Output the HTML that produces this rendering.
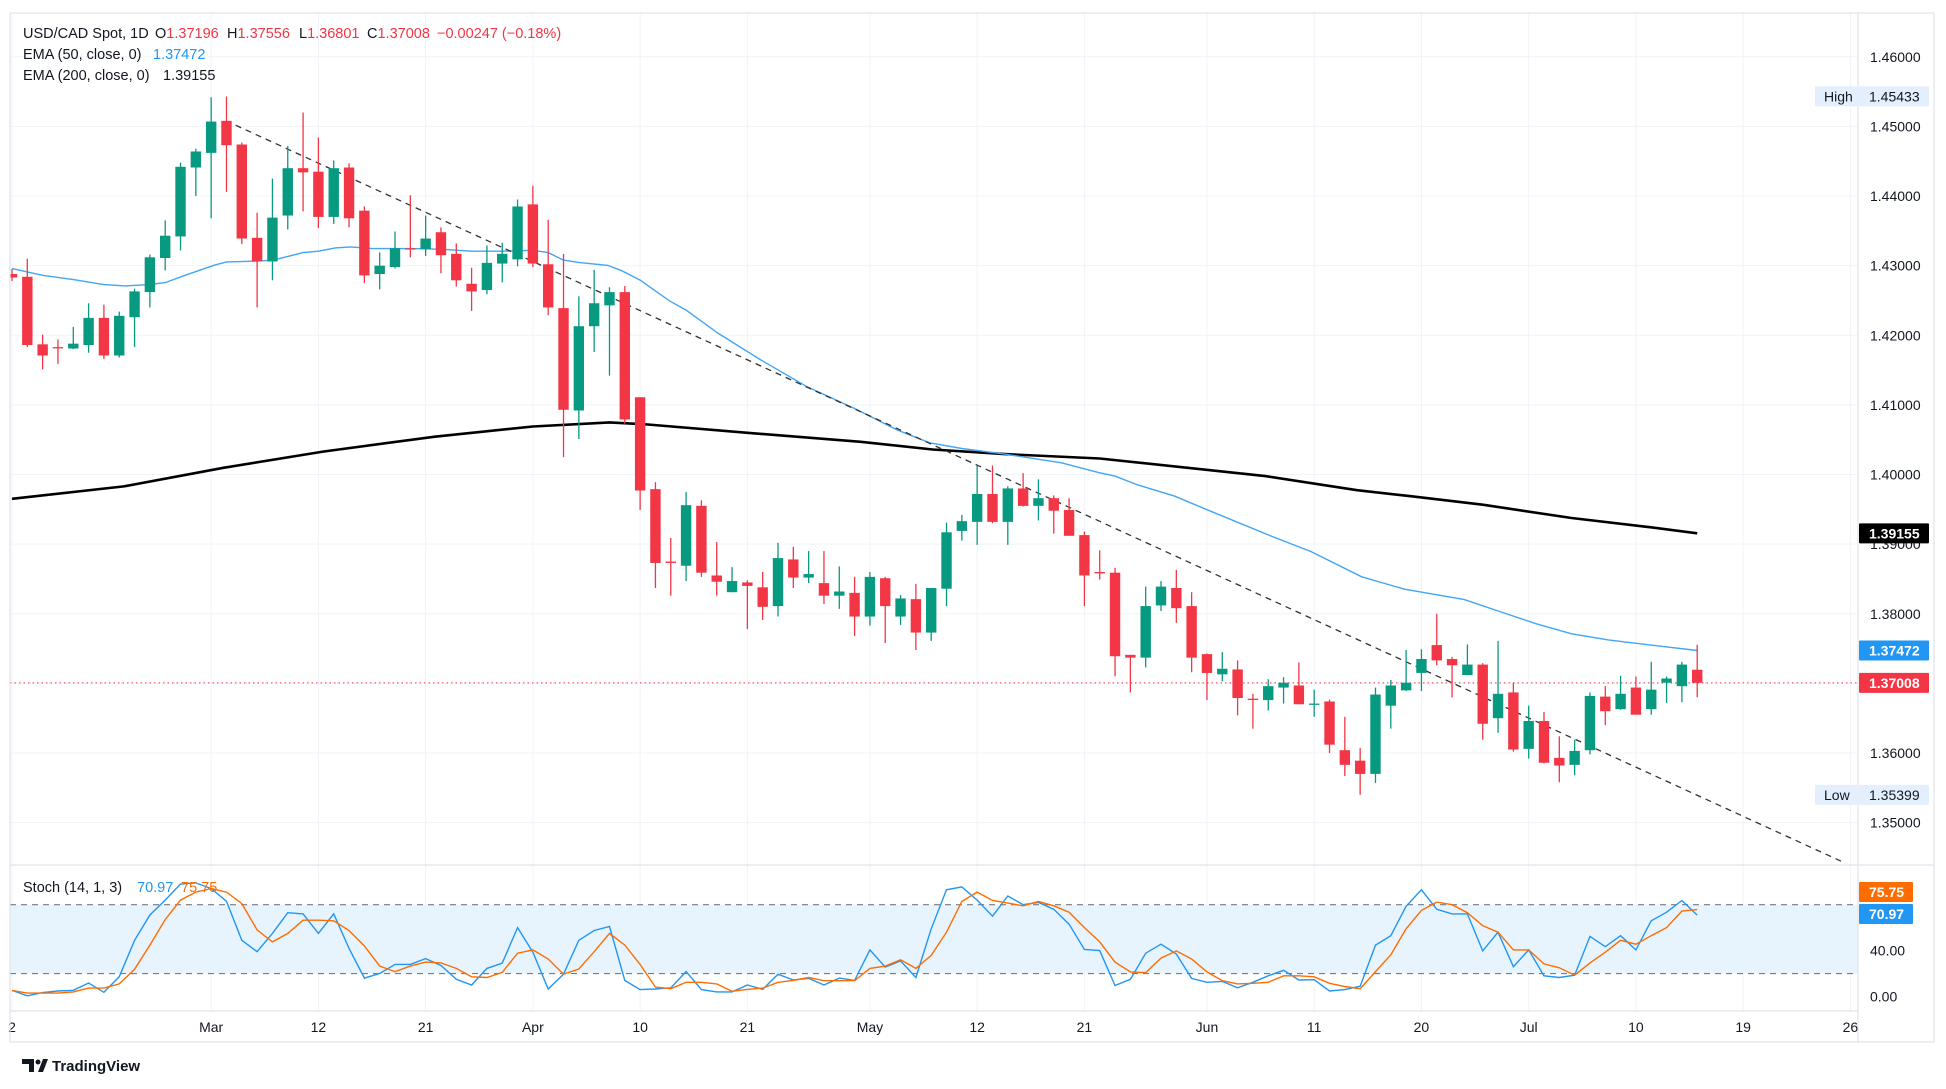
<!DOCTYPE html>
<html><head><meta charset="utf-8">
<style>
html,body{margin:0;padding:0;background:#fff;}
svg{display:block;font-family:"Liberation Sans",sans-serif;}
</style></head>
<body>
<svg id="chart" width="1946" height="1089" viewBox="0 0 1946 1089" xmlns="http://www.w3.org/2000/svg">
<rect x="0" y="0" width="1946" height="1089" fill="#ffffff"/>
<g id="grid"></g>
<g id="band"></g>
<g id="main"></g>
<g id="stoch"></g>
<g id="axes"></g>
<g font-size="14.5" fill="#131722">
  <text x="23" y="38">USD/CAD Spot, 1D</text>
  <text y="38"><tspan x="155">O</tspan><tspan fill="#f23645">1.37196</tspan><tspan x="227">H</tspan><tspan fill="#f23645">1.37556</tspan><tspan x="299">L</tspan><tspan fill="#f23645">1.36801</tspan><tspan x="367">C</tspan><tspan fill="#f23645">1.37008</tspan><tspan x="437" fill="#f23645">−0.00247 (−0.18%)</tspan></text>
  <text x="23" y="59">EMA (50, close, 0)<tspan x="153" fill="#2196f3">1.37472</tspan></text>
  <text x="23" y="80">EMA (200, close, 0)<tspan x="163">1.39155</tspan></text>
  <text x="23" y="892" font-size="14.5">Stoch (14, 1, 3) <tspan x="137" fill="#2196f3">70.97</tspan><tspan x="181" fill="#ff6d00">75.75</tspan></text>
</g>
<g>
  <path d="M22 1059 h12 v13 h-5 v-8 h-7z" fill="#131722"/>
  <circle cx="38" cy="1062" r="2.5" fill="#131722"/>
  <path d="M38 1072 l5 -13 h5 l-5 13z" fill="#131722"/>
  <text x="52" y="1071" font-size="15" font-weight="bold" fill="#131722">TradingView</text>
</g>
</svg>
<script>
const opens=[1.4288,1.4284,1.4187,1.4183,1.4181,1.4186,1.4225,1.4171,1.4226,1.4262,1.4311,1.4342,1.4441,1.4462,1.4508,1.4474,1.4340,1.4306,1.4372,1.4440,1.4435,1.4370,1.4441,1.4379,1.4288,1.4298,1.4325,1.4324,1.4348,1.4317,1.4274,1.4265,1.4303,1.4309,1.4388,1.4302,1.4239,1.4092,1.4213,1.4243,1.4262,1.4111,1.3979,1.3875,1.3869,1.3955,1.3855,1.3831,1.3845,1.3838,1.3811,1.3878,1.3852,1.3844,1.3826,1.3830,1.3796,1.3851,1.3796,1.3821,1.3773,1.3836,1.3919,1.3932,1.3972,1.3932,1.3980,1.3955,1.3966,1.3949,1.3913,1.3860,1.3859,1.3741,1.3737,1.3812,1.3837,1.3811,1.3742,1.3713,1.3720,1.3678,1.3676,1.3694,1.3697,1.3670,1.3674,1.3604,1.3589,1.3570,1.3668,1.3690,1.3715,1.3755,1.3735,1.3712,1.3727,1.3650,1.3687,1.3606,1.3646,1.3593,1.3583,1.3604,1.3681,1.3663,1.3694,1.3663,1.3701,1.3696,1.37196];
const highs=[1.4295,1.4310,1.4201,1.4194,1.4212,1.4246,1.4244,1.4234,1.4267,1.4316,1.4365,1.4448,1.4468,1.4542,1.4543,1.4477,1.4376,1.4425,1.4472,1.4520,1.4484,1.4451,1.4447,1.4385,1.4319,1.4349,1.4401,1.4372,1.4355,1.4332,1.4297,1.4329,1.4333,1.4395,1.4415,1.4366,1.4317,1.4256,1.4294,1.4269,1.4271,1.4111,1.3989,1.3909,1.3975,1.3963,1.3903,1.3867,1.3848,1.3860,1.3902,1.3896,1.3890,1.3890,1.3868,1.3853,1.3860,1.3853,1.3827,1.3843,1.3837,1.3931,1.3942,1.4013,1.4013,1.3983,1.4002,1.3993,1.3970,1.3966,1.3918,1.3891,1.3866,1.3741,1.3839,1.3847,1.3863,1.3831,1.3743,1.3745,1.3733,1.3685,1.3706,1.3709,1.3730,1.3691,1.3677,1.3652,1.3607,1.3694,1.3705,1.3748,1.3749,1.3800,1.3738,1.3756,1.3729,1.3761,1.3701,1.3668,1.3659,1.3624,1.3619,1.3687,1.3696,1.3711,1.3710,1.3731,1.3710,1.3731,1.37556];
const lows=[1.4278,1.4183,1.4151,1.4159,1.4180,1.4175,1.4166,1.4168,1.4183,1.4240,1.4293,1.4322,1.4400,1.4368,1.4406,1.4331,1.4240,1.4279,1.4352,1.4378,1.4354,1.4360,1.4355,1.4275,1.4266,1.4296,1.4312,1.4314,1.4289,1.4270,1.4235,1.4259,1.4276,1.4299,1.4298,1.4229,1.4025,1.4051,1.4176,1.4142,1.4073,1.3949,1.3837,1.3826,1.3847,1.3853,1.3826,1.3831,1.3778,1.3791,1.3796,1.3837,1.3844,1.3814,1.3807,1.3768,1.3783,1.3758,1.3784,1.3748,1.3761,1.3811,1.3905,1.3899,1.3930,1.3899,1.3954,1.3934,1.3915,1.3912,1.3811,1.3849,1.3710,1.3687,1.3723,1.3804,1.3787,1.3716,1.3676,1.3703,1.3654,1.3635,1.3661,1.3671,1.3670,1.3652,1.3600,1.3567,1.3540,1.3557,1.3635,1.3689,1.3689,1.3726,1.3680,1.3712,1.3619,1.3629,1.3602,1.3592,1.3585,1.3558,1.3568,1.3598,1.3640,1.3662,1.3655,1.3655,1.3672,1.3673,1.36801];
const closes=[1.4283,1.4186,1.4171,1.4182,1.4188,1.4225,1.4171,1.4228,1.4263,1.4312,1.4343,1.4442,1.4464,1.4507,1.4473,1.4339,1.4306,1.4369,1.4440,1.4434,1.4370,1.4440,1.4368,1.4286,1.4300,1.4325,1.4324,1.4339,1.4315,1.4279,1.4263,1.4304,1.4317,1.4385,1.4303,1.4240,1.4093,1.4213,1.4246,1.4262,1.4079,1.3977,1.3873,1.3873,1.3956,1.3859,1.3846,1.3847,1.3840,1.3810,1.3880,1.3852,1.3857,1.3826,1.3832,1.3796,1.3853,1.3811,1.3822,1.3773,1.3837,1.3917,1.3933,1.3972,1.3932,1.3980,1.3955,1.3966,1.3948,1.3912,1.3855,1.3858,1.3739,1.3737,1.3811,1.3839,1.3808,1.3737,1.3715,1.3721,1.3679,1.3677,1.3696,1.3701,1.3670,1.3671,1.3612,1.3583,1.3570,1.3684,1.3697,1.3701,1.3735,1.3733,1.3726,1.3727,1.3642,1.3685,1.3605,1.3646,1.3586,1.3582,1.3603,1.3682,1.3660,1.3685,1.3655,1.3691,1.3707,1.3727,1.37008];
const ema50Bars=[0,2,4,6,7.4,9,10,11.3,13.2,14,15.5,17,19,20,21.1,22.1,23.5,26,28,30,32,34,35,36,37,38.9,39.8,41,42.9,44,46.1,48.9,51.9,55,57.8,59.9,62,64.8,68.5,71,72,73.4,75.9,78,82,84.8,88.1,90.9,94.8,97.2,99.5,101.8,104.2,106.9,110];
const ema50=[1.42958,1.42862,1.42800,1.42728,1.42709,1.42728,1.42757,1.42862,1.43006,1.43054,1.43063,1.43077,1.43188,1.43207,1.43255,1.43269,1.43245,1.43245,1.43236,1.43207,1.43207,1.43221,1.43188,1.43080,1.43047,1.43004,1.42927,1.42793,1.42496,1.42362,1.42027,1.41643,1.41260,1.40949,1.40638,1.40456,1.40374,1.40293,1.40168,1.40024,1.39977,1.39857,1.39688,1.39495,1.39133,1.38893,1.38531,1.38353,1.38203,1.38025,1.37856,1.37712,1.37625,1.37553,1.37472];
const ema200Bars=[0,7.3,13.8,20.3,27.6,34,39,41.5,48.5,55.4,60.1,64.8,71,81.8,87.8,91.3,96,101.8,106.9,110];
const ema200=[1.39651,1.39830,1.40097,1.40329,1.40543,1.40690,1.40748,1.40719,1.40590,1.40470,1.40360,1.40293,1.40230,1.39977,1.39775,1.39688,1.39567,1.39375,1.39244,1.39155];
const trendBars=[14.6,119.4];
const trendPrices=[1.45017,1.34445];
const stochK=[5.3,0.6,3.4,4.8,5.4,11.8,3.7,17.2,49,71,84,98,99,94,83,49,39,55,73,72,55,72,42,16,20,28,28,33,27,15,10,24.5,29,60,38.6,6.5,19.4,49,57.5,61,14,6,6.5,7.6,21.7,6,4,4,10,6.2,19.4,14.4,15.8,10,16,14,40.6,25.6,31,16.6,59,93,95.5,84,70,87.6,80,82,76,63,41,40,9.6,15,37.7,45.6,37,15.8,12.4,13.2,7.6,12.4,18,22.8,14.4,14.6,4.8,6,9,44.8,53,78.6,93,76,72,72,39.7,56,26,40.6,18,16.6,18.6,52.4,43.4,53,40.6,66,73.5,83.7,70.97];
const stochD=[5.3,3,3,3,4,7.3,7.3,11,23.7,44.8,67,84,91,94,91,81,58,47.6,55,66.5,66.5,66,57.5,44,26.5,21.7,26.5,30,29.3,24.5,17.2,16.6,21,37.7,40.6,32.7,19.4,24,39,55,44.8,28,8.2,6.8,12.4,12.4,11,4.5,6.2,7.3,12.4,14,16.6,13.8,13.8,13.8,24.5,26.5,32,24.5,35.8,56,82.8,91,83.7,81.4,79,82.8,79,73.5,60,47.6,30,21.4,20.8,33.5,39.7,32.7,21.4,13.8,11,11.5,12.4,18,18,17.2,11.5,8.7,6.8,21.7,36.3,59,75,82.3,80,73,61.7,56,40.6,40.6,28.4,25,18.6,29.3,38.6,49,45.6,53,60,74.4,75.75];
const tickBars=[0,13,20,27,34,41,48,56,63,70,78,85,92,99,106,113,120];
const tickLabels=["2","Mar","12","21","Apr","10","21","May","12","21","Jun","11","20","Jul","10","19","26"];
const priceTicks=[1.46,1.45,1.44,1.43,1.42,1.41,1.40,1.39,1.38,1.37,1.36,1.35];
const stochTicks=[40,0];

const NS="http://www.w3.org/2000/svg";
const L=10,R=1858,T=13,PB=865,SB=1011,B=1042,OR=1934;
function xs(i){return 12+i*15.32;}
function ys(p){return 56.8+(1.46-p)*6962;}
function yst(v){return 996.5-v*1.1475;}
function mk(tag,attrs,parent){const e=document.createElementNS(NS,tag);for(const k in attrs)e.setAttribute(k,attrs[k]);parent.appendChild(e);return e;}
const grid=document.getElementById('grid'),band=document.getElementById('band'),main=document.getElementById('main'),st=document.getElementById('stoch'),axes=document.getElementById('axes');

const defs=mk('defs',{},document.getElementById('chart'));
const cp=mk('clipPath',{id:'cm'},defs);mk('rect',{x:L,y:T,width:R-L,height:PB-T},cp);
const cp2=mk('clipPath',{id:'cs'},defs);mk('rect',{x:L,y:PB,width:R-L,height:SB-PB},cp2);
main.setAttribute('clip-path','url(#cm)');
st.setAttribute('clip-path','url(#cs)');

priceTicks.forEach(p=>{const g=mk('line',{x1:L,x2:R,y1:ys(p),y2:ys(p),stroke:'#f0f3fa','stroke-width':1},grid);

});
tickBars.forEach((b,i)=>{const g=mk('line',{x1:xs(b),x2:xs(b),y1:T,y2:SB,stroke:'#f0f3fa','stroke-width':1},grid);


const t=mk('text',{x:xs(b),y:1032,'text-anchor':'middle','font-size':14,fill:'#131722'},axes);t.textContent=tickLabels[i];

});

const bd=mk('rect',{x:L,y:yst(80),width:R-L,height:yst(20)-yst(80),fill:'#e3f2fd',opacity:0.85},band);


[80,20].forEach(v=>{const l=mk('line',{x1:L,x2:R,y1:yst(v),y2:yst(v),stroke:'#787b86','stroke-width':1.2,'stroke-dasharray':'6 5'},band);

});

function linePath(bars,vals,yf){return bars.map((b,i)=>(i?'L':'M')+xs(b).toFixed(1)+' '+yf(vals[i]).toFixed(1)).join(' ');}
const e200=mk('path',{d:linePath(ema200Bars,ema200,ys),fill:'none',stroke:'#000','stroke-width':2.6},main);


const e50=mk('path',{d:linePath(ema50Bars,ema50,ys),fill:'none',stroke:'#42a5f5','stroke-width':1.4},main);


const tl=mk('line',{x1:xs(trendBars[0]),y1:ys(trendPrices[0]),x2:xs(trendBars[1]),y2:ys(trendPrices[1]),stroke:'#333','stroke-width':1.3,'stroke-dasharray':'6 5'},main);


const lp=mk('line',{x1:L,x2:R,y1:ys(closes[closes.length-1]),y2:ys(closes[closes.length-1]),stroke:'#f23645','stroke-width':1,'stroke-dasharray':'1.5 3'},main);



for(let i=0;i<opens.length;i++){
  const up=closes[i]>=opens[i],c=up?'#089981':'#f23645',x=xs(i);
  const g=mk('g',{},main);
  
  
  mk('line',{x1:x,x2:x,y1:ys(highs[i]),y2:ys(lows[i]),stroke:c,'stroke-width':1.3},g);
  const t=ys(Math.max(opens[i],closes[i])),bt=ys(Math.min(opens[i],closes[i]));
  mk('rect',{x:x-5.2,y:t,width:10.4,height:Math.max(1.3,bt-t),fill:c},g);
}

const sb=stochK.map((_,i)=>i);
const sk=mk('path',{d:linePath(sb,stochK,yst),fill:'none',stroke:'#2196f3','stroke-width':1.4},st);


const sd=mk('path',{d:linePath(sb,stochD,yst),fill:'none',stroke:'#ff6d00','stroke-width':1.4},st);



[[L,T,OR,T],[L,B,OR,B],[L,T,L,B],[OR,T,OR,B],[R,T,R,B],[L,PB,OR,PB],[L,SB,R,SB]].forEach(a=>{
 const l=mk('line',{x1:a[0],y1:a[1],x2:a[2],y2:a[3],stroke:'#e0e3eb','stroke-width':1.2},axes);
 
 });

priceTicks.forEach(p=>{const t=mk('text',{x:1870,y:ys(p)+5,'font-size':14,fill:'#131722'},axes);t.textContent=p.toFixed(5);

});
stochTicks.forEach(v=>{const t=mk('text',{x:1870,y:yst(v)+5,'font-size':14,fill:'#131722'},axes);t.textContent=v.toFixed(2);

});

function badge(name,y,txt,bg,fg,w){const g=mk('g',{},axes);
 
 
 mk('rect',{x:1859,y:y-10,width:w,height:20,fill:bg,rx:1},g);
 const t=mk('text',{x:1869,y:y+5,'font-size':14,fill:fg,'font-weight':fg=='#fff'?'bold':'normal'},g);t.textContent=txt;}
badge('high-value-badge',ys(1.45433),'1.45433','#e3effd','#131722',70);
badge('ema200-badge',ys(ema200[ema200.length-1]),'1.39155','#000','#fff',70);
badge('ema50-badge',ys(ema50[ema50.length-1]),'1.37472','#2196f3','#fff',70);
badge('last-price-badge',ys(closes[closes.length-1]),'1.37008','#f23645','#fff',70);
badge('low-value-badge',ys(1.35399),'1.35399','#e3effd','#131722',70);
badge('stoch-d-badge',892,'75.75','#ff6d00','#fff',54);
badge('stoch-k-badge',914,'70.97','#2196f3','#fff',54);
function tag(name,y,txt){const g=mk('g',{},axes);
 
 
 mk('rect',{x:1815,y:y-10,width:42,height:20,fill:'#e3effd'},g);
 const t=mk('text',{x:1824,y:y+5,'font-size':14,fill:'#131722'},g);t.textContent=txt;}
tag('high-tag',ys(1.45433),'High');
tag('low-tag',ys(1.35399),'Low');
</script>
</body></html>
